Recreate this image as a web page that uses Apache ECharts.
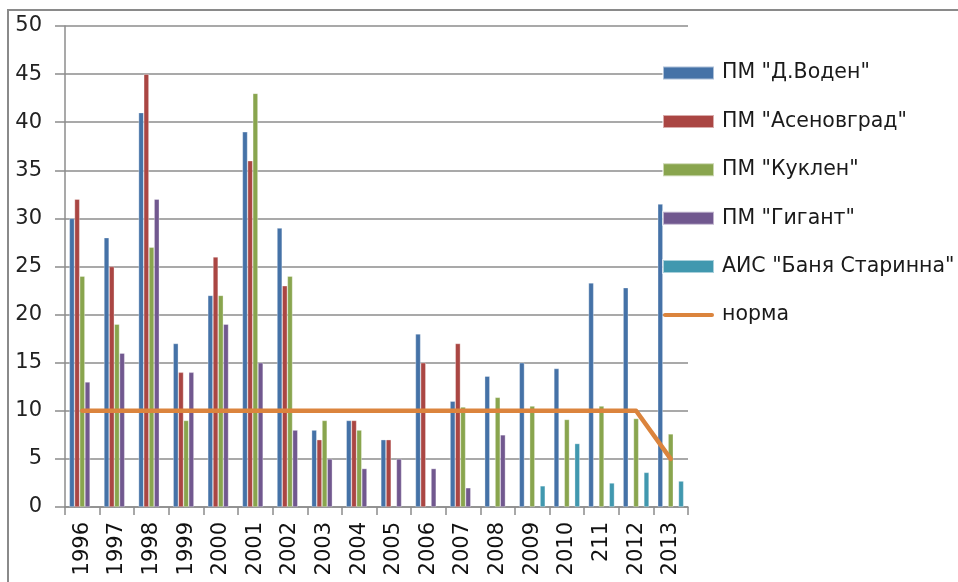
<!DOCTYPE html>
<html>
<head>
<meta charset="utf-8">
<script src="https://cdn.jsdelivr.net/npm/echarts@6/dist/echarts.min.js"></script>
<style>
html,body{margin:0;padding:0;background:#fff;}
#c{width:958px;height:582px;}
</style>
</head>
<body>
<div id="c"></div>
<script>
var categories = ['1996','1997','1998','1999','2000','2001','2002','2003','2004','2005','2006','2007','2008','2009','2010','211','2012','2013'];
var seriesNames = ['ПМ "Д.Воден"','ПМ "Асеновград"','ПМ "Куклен"','ПМ "Гигант"','АИС "Баня Старинна"','норма'];
var voden      = [30, 28, 41, 17, 22, 39, 29, 8, 9, 7, 18, 11, 13.6, 15, 14.4, 23.3, 22.8, 31.5];
var asenovgrad = [32, 25, 45, 14, 26, 36, 23, 7, 9, 7, 15, 17, null, null, null, null, null, null];
var kuklen     = [24, 19, 27, 9, 22, 43, 24, 9, 8, null, null, 10.4, 11.4, 10.5, 9.1, 10.5, 9.2, 7.6];
var gigant     = [13, 16, 32, 14, 19, 15, 8, 5, 4, 5, 4, 2, 7.5, null, null, null, null, null];
var banya      = [null, null, null, null, null, null, null, null, null, null, null, null, null, 2.2, 6.6, 2.5, 3.6, 2.7];
var norma      = [10, 10, 10, 10, 10, 10, 10, 10, 10, 10, 10, 10, 10, 10, 10, 10, 10, 5];
var yTicks = {min: 0, max: 50, interval: 5};

var colors = ['#4572A7', '#AA4643', '#89A54E', '#71588F', '#4198AF', '#DB843D'];
var FONT = 'DejaVu Sans';
var gridColor = '#8c8c8c';

var chart = echarts.init(document.getElementById('c'), null, {renderer: 'canvas'});

function bar(name, data, color) {
  return {
    name: name, type: 'bar', data: data,
    barGap: '0%', barCategoryGap: '25%',
    itemStyle: {color: color, borderColor: 'rgba(255,255,255,0.55)', borderWidth: 0.6},
    z: 2
  };
}

var lineIcon = 'path://M2,0 H49 A2,2 0 0 1 49,4 H2 A2,2 0 0 1 2,0 Z';

chart.setOption({
  animation: false,
  color: colors,
  graphic: [{
    type: 'rect', shape: {x: 8, y: 10, width: 1200, height: 1200},
    style: {fill: 'none', stroke: '#8a8a8a', lineWidth: 2}, z: 0, silent: true
  }],
  grid: {left: 65, right: 270, top: 26, bottom: 75, containLabel: false},
  legend: {
    orient: 'vertical', left: 662, top: 61, padding: 0,
    itemWidth: 51, itemHeight: 13, itemGap: 24.4,
    textStyle: {fontFamily: FONT, fontSize: 20.5, color: '#1a1a1a', lineHeight: 24, padding: [0, 0, 0, 3]},
    data: [
      {name: seriesNames[0], icon: 'rect'},
      {name: seriesNames[1], icon: 'rect'},
      {name: seriesNames[2], icon: 'rect'},
      {name: seriesNames[3], icon: 'rect'},
      {name: seriesNames[4], icon: 'rect'},
      {name: seriesNames[5], icon: lineIcon}
    ],
    z: 10
  },
  xAxis: {
    type: 'category', data: categories, boundaryGap: true,
    axisLine: {show: true, lineStyle: {color: gridColor, width: 1.5}},
    axisTick: {show: true, length: 8, lineStyle: {color: gridColor, width: 1.5}},
    axisLabel: {rotate: 90, fontFamily: FONT, fontSize: 21, color: '#111', margin: 15, interval: 0},
    splitLine: {show: false}
  },
  yAxis: {
    type: 'value', min: yTicks.min, max: yTicks.max, interval: yTicks.interval,
    axisLine: {show: true, lineStyle: {color: gridColor, width: 1.5}},
    axisTick: {show: true, length: 10, lineStyle: {color: gridColor, width: 1.5}},
    axisLabel: {fontFamily: FONT, fontSize: 21, color: '#222', margin: 23},
    splitLine: {show: true, lineStyle: {color: gridColor, width: 1.5}}
  },
  series: [
    bar(seriesNames[0], voden, colors[0]),
    bar(seriesNames[1], asenovgrad, colors[1]),
    bar(seriesNames[2], kuklen, colors[2]),
    bar(seriesNames[3], gigant, colors[3]),
    bar(seriesNames[4], banya, colors[4]),
    {
      name: seriesNames[5], type: 'line', data: norma,
      symbol: 'none', showSymbol: false,
      lineStyle: {color: colors[5], width: 4.5, cap: 'round', join: 'round'},
      itemStyle: {color: colors[5]},
      z: 5
    }
  ]
});
</script>
</body>
</html>
